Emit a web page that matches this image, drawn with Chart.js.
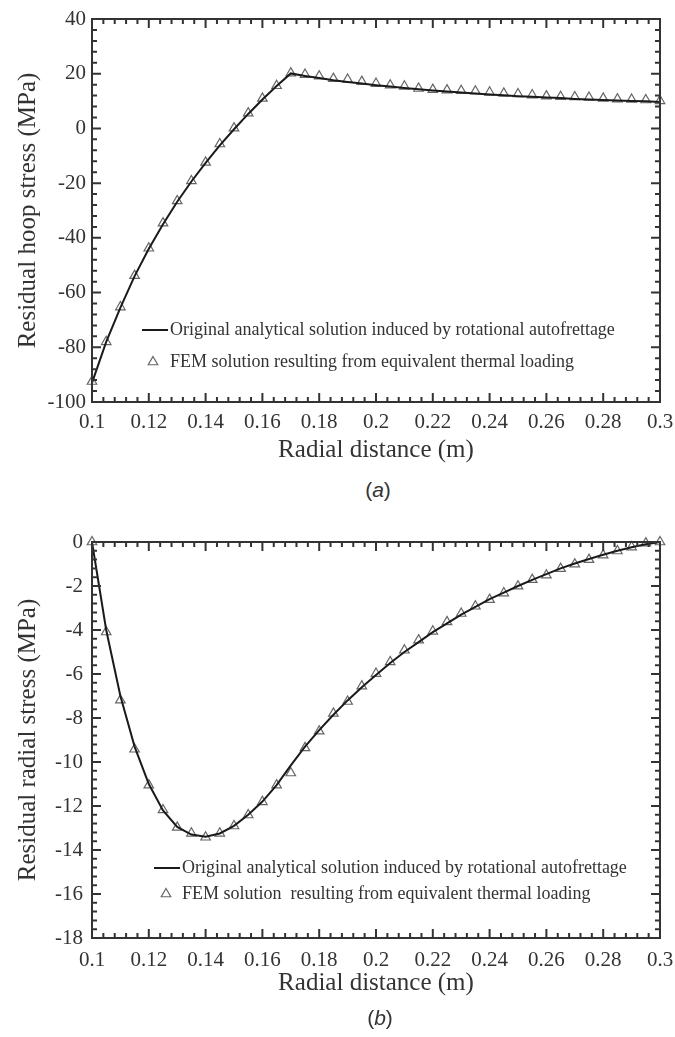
<!DOCTYPE html>
<html>
<head>
<meta charset="utf-8">
<script src="https://cdn.jsdelivr.net/npm/chart.js@4/dist/chart.umd.min.js"></script>
<style>
  body { margin: 0; background: #fff; }
  #page { position: relative; width: 675px; height: 1037px; overflow: hidden; }
  canvas { position: absolute; left: 0; }
  .caption { position: absolute; font: 21px "Liberation Sans", Arial, sans-serif; color: #333;
             transform: translate(-50%, -50%); white-space: nowrap; }
</style>
</head>
<body>
<div id="page">
  <canvas id="chartA" width="675" height="470" style="top:0"></canvas>
  <div class="caption" style="left:378px;top:490px">(<i>a</i>)</div>
  <canvas id="chartB" width="675" height="490" style="top:520px"></canvas>
  <div class="caption" style="left:380px;top:1018px">(<i>b</i>)</div>
</div>
<script>
// Radial positions of the FEM nodes (m)
var radius = [0.1, 0.105, 0.11, 0.115, 0.12, 0.125, 0.13, 0.135, 0.14, 0.145,
    0.15, 0.155, 0.16, 0.165, 0.17, 0.175, 0.18, 0.185, 0.19, 0.195,
    0.2, 0.205, 0.21, 0.215, 0.22, 0.225, 0.23, 0.235, 0.24, 0.245,
    0.25, 0.255, 0.26, 0.265, 0.27, 0.275, 0.28, 0.285, 0.29, 0.295, 0.3];

// (a) residual hoop stress (MPa)
var hoopAnalytical = [-93, -78, -65.5, -54, -44, -35, -26.8, -19.4, -12.6, -6.2,
    -0.3, 5.3, 10.6, 15.5, 20.1, 19.2, 18.4, 17.6, 17.0, 16.4,
    15.8, 15.3, 14.8, 14.3, 13.9, 13.5, 13.1, 12.8, 12.4, 12.1,
    11.8, 11.6, 11.3, 11.1, 10.8, 10.6, 10.4, 10.2, 10.0, 9.9, 9.7];
var hoopFem = [-92.5, -78, -65.3, -53.8, -43.8, -34.6, -26.5, -19.2, -12.4, -5.7,
    0.1, 5.6, 11.0, 15.6, 20.2, 19.7, 19.1, 18.2, 17.9, 17.1,
    16.4, 15.8, 15.4, 14.6, 14.2, 14.0, 13.8, 13.6, 13.2, 12.8,
    12.6, 12.2, 11.8, 11.6, 11.5, 11.3, 11.0, 10.7, 10.6, 10.4, 10.1];

// (b) residual radial stress (MPa)
var radialAnalytical = [0, -4.0, -7.0, -9.3, -11.0, -12.2, -12.95, -13.3, -13.4, -13.25,
    -12.9, -12.4, -11.8, -11.05, -10.15, -9.3, -8.55, -7.85, -7.2, -6.6,
    -6.05, -5.5, -5.0, -4.55, -4.1, -3.7, -3.3, -2.95, -2.6, -2.3,
    -2.0, -1.72, -1.46, -1.2, -0.98, -0.77, -0.58, -0.4, -0.24, -0.1, 0];
var radialFem = [0, -4.09, -7.19, -9.42, -11.05, -12.18, -12.97, -13.24, -13.42, -13.24,
    -12.91, -12.41, -11.81, -11.05, -10.5, -9.36, -8.6, -7.79, -7.25, -6.55,
    -5.98, -5.45, -4.92, -4.46, -4.06, -3.63, -3.25, -2.92, -2.62, -2.32,
    -2.01, -1.71, -1.51, -1.21, -1.01, -0.8, -0.6, -0.41, -0.23, -0.05, 0];

// Tick labels
var xTicks = [0.1, 0.12, 0.14, 0.16, 0.18, 0.2, 0.22, 0.24, 0.26, 0.28, 0.3];
var yTicksHoop = [-100, -80, -60, -40, -20, 0, 20, 40];
var yTicksRadial = [-18, -16, -14, -12, -10, -8, -6, -4, -2, 0];

var analyticalLabel = 'Original analytical solution induced by rotational autofrettage';
var femLabelA = 'FEM solution resulting from equivalent thermal loading';
var femLabelB = 'FEM solution  resulting from equivalent thermal loading';

var SERIF = '"Liberation Serif", "Times New Roman", serif';
var INK = '#333';

function serif(size) {
    return { family: SERIF, size: size };
}

function points(ys) {
    return radius.map(function(r, i) { return { x: r, y: ys[i] }; });
}

// 4 minor ticks between each pair of majors
function minors(majors) {
    var out = [];
    for (var i = 0; i < majors.length - 1; i++) {
        var step = (majors[i + 1] - majors[i]) / 5;
        for (var k = 1; k < 5; k++) out.push(majors[i] + k * step);
    }
    return out;
}

/**
 * Boxed frame with inward ticks on all four sides
 */
var framePlugin = {
    id: 'frame',
    afterDatasetsDraw: function(chart, args, o) {
        var a = chart.chartArea, ctx = chart.ctx;
        var sx = chart.scales.x, sy = chart.scales.y;
        ctx.save();
        ctx.strokeStyle = INK;
        ctx.lineWidth = 2;
        ctx.strokeRect(a.left, a.top, a.right - a.left, a.bottom - a.top);
        ctx.beginPath();
        function xTick(v, len) {
            var px = sx.getPixelForValue(v);
            ctx.moveTo(px, a.bottom); ctx.lineTo(px, a.bottom - len);
            ctx.moveTo(px, a.top); ctx.lineTo(px, a.top + len);
        }
        function yTick(v, len) {
            var py = sy.getPixelForValue(v);
            ctx.moveTo(a.left, py); ctx.lineTo(a.left + len, py);
            ctx.moveTo(a.right, py); ctx.lineTo(a.right - len, py);
        }
        o.xMajor.forEach(function(v) { xTick(v, 9); });
        minors(o.xMajor).forEach(function(v) { xTick(v, 5); });
        o.yMajor.forEach(function(v) { yTick(v, 9); });
        minors(o.yMajor).forEach(function(v) { yTick(v, 5); });
        ctx.stroke();
        ctx.restore();
    }
};

/**
 * Legend drawn inside the plot area
 */
var legendPlugin = {
    id: 'insideLegend',
    afterDraw: function(chart, args, o) {
        var ctx = chart.ctx, ds = chart.data.datasets;
        ctx.save();
        ctx.font = '18px ' + SERIF;
        ctx.fillStyle = INK;
        ctx.textBaseline = 'middle';

        // analytical line sample
        ctx.strokeStyle = ds[0].borderColor;
        ctx.lineWidth = ds[0].borderWidth;
        ctx.beginPath();
        ctx.moveTo(o.lineX0, o.y1);
        ctx.lineTo(o.lineX1, o.y1);
        ctx.stroke();
        ctx.fillText(ds[0].label, o.textX, o.y1);

        // FEM triangle
        var r = ds[1].pointRadius;
        ctx.strokeStyle = ds[1].borderColor;
        ctx.lineWidth = ds[1].borderWidth;
        ctx.beginPath();
        ctx.moveTo(o.markX, o.y2 - r);
        ctx.lineTo(o.markX + 0.866 * r, o.y2 + 0.5 * r);
        ctx.lineTo(o.markX - 0.866 * r, o.y2 + 0.5 * r);
        ctx.closePath();
        ctx.stroke();
        ctx.fillText(ds[1].label, o.textX2, o.y2);
        ctx.restore();
    }
};

function makeChart(id, cfg) {
    return new Chart(document.getElementById(id), {
        type: 'scatter',
        data: {
            datasets: [{
                label: analyticalLabel,
                data: points(cfg.line),
                showLine: true,
                borderColor: '#1a1a1a',
                borderWidth: 2,
                pointRadius: 0,
                tension: 0,
                clip: false
            }, {
                label: cfg.femLabel,
                data: points(cfg.fem),
                showLine: false,
                pointStyle: 'triangle',
                pointRadius: 5.5,
                borderWidth: 1.2,
                borderColor: '#666',
                backgroundColor: 'rgba(0,0,0,0)',
                clip: false
            }]
        },
        options: {
            responsive: false,
            animation: false,
            devicePixelRatio: 1,
            layout: { padding: { left: 0, right: 15, top: cfg.padTop, bottom: 0 } },
            plugins: {
                legend: { display: false },
                tooltip: { enabled: false },
                frame: { xMajor: xTicks, yMajor: cfg.yTicks },
                insideLegend: cfg.legend
            },
            scales: {
                x: {
                    type: 'linear', min: 0.1, max: 0.3,
                    grid: { display: false, drawTicks: false },
                    border: { display: false },
                    afterBuildTicks: function(s) {
                        s.ticks = xTicks.map(function(v) { return { value: v }; });
                    },
                    afterFit: function(s) {
                        s.height = cfg.xHeight;
                        s.paddingLeft = 0;
                        s.paddingRight = 0;
                    },
                    ticks: {
                        font: serif(21), color: INK, padding: cfg.xPad,
                        maxRotation: 0, autoSkip: false,
                        callback: function(v) { return String(v); }
                    },
                    title: {
                        display: true, text: 'Radial distance (m)', font: serif(25), color: INK,
                        padding: { top: 0, bottom: cfg.xTitlePad }
                    }
                },
                y: {
                    type: 'linear', min: cfg.yTicks[0], max: cfg.yTicks[cfg.yTicks.length - 1],
                    grid: { display: false, drawTicks: false },
                    border: { display: false },
                    afterBuildTicks: function(s) {
                        s.ticks = cfg.yTicks.map(function(v) { return { value: v }; });
                    },
                    afterFit: function(s) {
                        s.width = 92;
                        s.paddingTop = 0;
                        s.paddingBottom = 0;
                    },
                    ticks: {
                        font: serif(21), color: INK, padding: cfg.yPad, autoSkip: false,
                        callback: function(v) { return String(v); }
                    },
                    title: {
                        display: true, text: cfg.yTitle, font: serif(25), color: INK,
                        padding: { top: 13, bottom: 0 }
                    }
                }
            }
        },
        plugins: [framePlugin, legendPlugin]
    });
}

makeChart('chartA', {
    line: hoopAnalytical, fem: hoopFem, femLabel: femLabelA,
    yTicks: yTicksHoop, yTitle: 'Residual hoop stress (MPa)',
    padTop: 19, xHeight: 68, xPad: 8, xTitlePad: 5, yPad: 6,
    legend: { lineX0: 142, lineX1: 168, textX: 170, y1: 330, markX: 153, textX2: 170, y2: 362 }
});

makeChart('chartB', {
    line: radialAnalytical, fem: radialFem, femLabel: femLabelB,
    yTicks: yTicksRadial, yTitle: 'Residual radial stress (MPa)',
    padTop: 22, xHeight: 72, xPad: 10, xTitlePad: 12, yPad: 9,
    legend: { lineX0: 154, lineX1: 180, textX: 182, y1: 348, markX: 166, textX2: 182, y2: 374 }
});
</script>
</body>
</html>
